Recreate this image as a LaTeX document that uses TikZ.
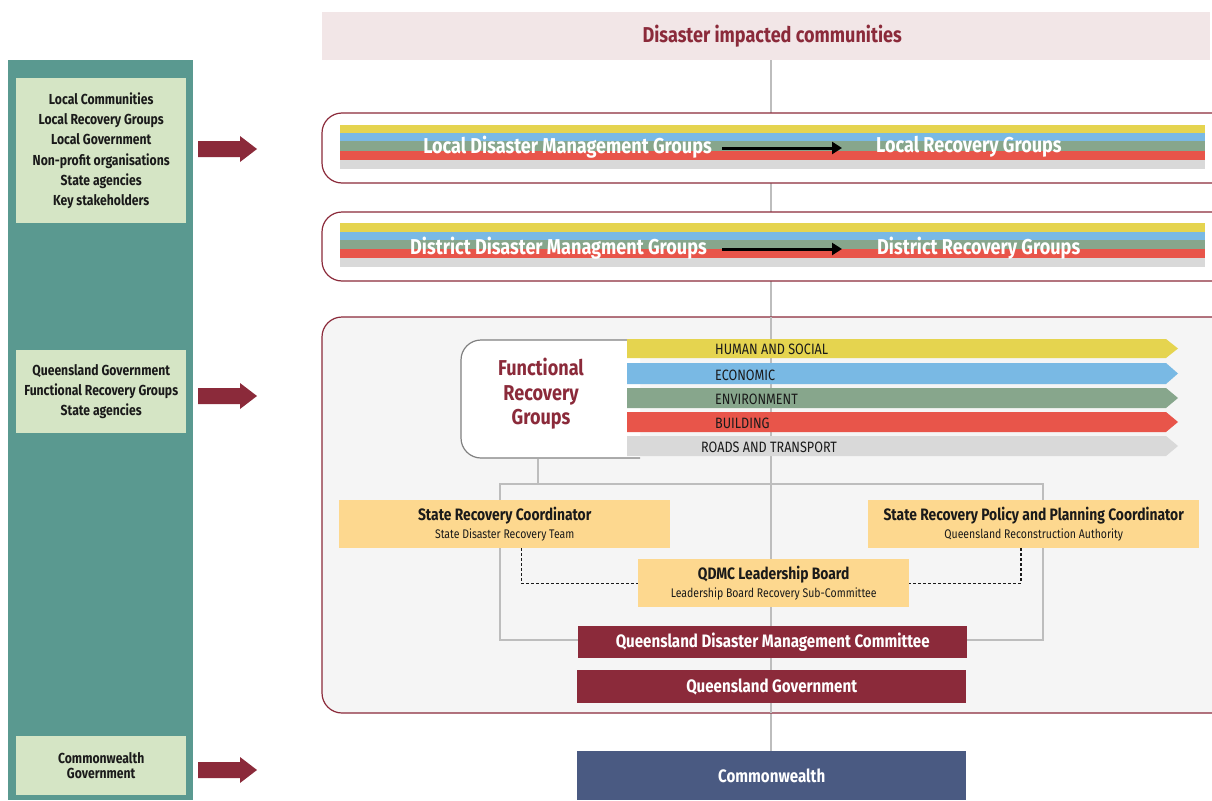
\documentclass[tikz,border=0pt]{standalone}
\usepackage{fontspec}
\setmainfont{Fira Sans}[FakeStretch=0.84]
\usetikzlibrary{arrows.meta,calc}
\definecolor{maroon}{HTML}{8B2A3A}
\definecolor{tealc}{HTML}{5A9990}
\definecolor{lgreen}{HTML}{D5E5C5}
\definecolor{pinkbg}{HTML}{F2E6E7}
\definecolor{panel}{HTML}{F5F5F5}
\definecolor{ybox}{HTML}{FDD88F}
\definecolor{navy}{HTML}{4A5A82}
\definecolor{lgray}{HTML}{BDBDBD}
\definecolor{cyel}{HTML}{E5D44F}
\definecolor{cblue}{HTML}{79B9E4}
\definecolor{cgreen}{HTML}{87A68C}
\definecolor{cred}{HTML}{E8554A}
\definecolor{cgray}{HTML}{D9D9D9}
\definecolor{ink}{HTML}{1A1A1A}
\newcommand\ttlfont{\bfseries\fontsize{16.5}{18}\selectfont}
\newcommand\subfont{\fontsize{12.5}{13}\selectfont}
\begin{document}
\begin{tikzpicture}[x=1pt,y=-1pt,
  box/.style={inner sep=0pt, align=center},
  leftbox/.style={box, fill=lgreen, text=ink, font=\bfseries\fontsize{14.5}{20.2}\selectfont},
  frame/.style={draw=maroon, line width=1.2pt, rounded corners=20pt},
  stripetxt/.style={text=white, font=\bfseries\fontsize{21.5}{24}\selectfont, inner sep=0pt},
  blackarrow/.style={-{Triangle[length=10pt,width=12pt]}, line width=3pt, black},
  bandtxt/.style={text=ink, font=\fontsize{15}{16}\selectfont, inner sep=0pt, anchor=west},
  gl/.style={draw=lgray, line width=2.5pt},
  ybx/.style={box, fill=ybox, text=ink, minimum width=331pt, minimum height=48pt},
  mbx/.style={box, fill=maroon, text=white, font=\bfseries\fontsize{18}{20}\selectfont},
  dsh/.style={dashed, dash pattern=on 3pt off 2pt, line width=1.3pt, ink}
]
\clip (0,0) rectangle (1212,800);
\fill[white] (0,0) rectangle (1212,800);

% left column
\node[box, fill=tealc, minimum width=185pt, minimum height=740pt, anchor=north west] (col) at (8,60) {};
\node[leftbox, minimum width=170pt, minimum height=145pt, anchor=north west] (lb1) at (16,78)
  {Local Communities\\Local Recovery Groups\\Local Government\\Non-profit organisations\\State agencies\\Key stakeholders};
\node[leftbox, minimum width=170pt, minimum height=83pt, anchor=north west] (lb2) at (16,350)
  {Queensland Government\\Functional Recovery Groups\\State agencies};
\node[leftbox, minimum width=170pt, minimum height=59pt, anchor=north west, font=\bfseries\fontsize{14.5}{15.5}\selectfont] (lb3) at (16,736)
  {Commonwealth\\Government};
\foreach \yy/\nm in {149/a1, 396/a2, 770/a3}{
  \fill[maroon] (198,\yy-8) -- (240,\yy-8) -- (240,\yy-13) -- (257,\yy) -- (240,\yy+13) -- (240,\yy+8) -- (198,\yy+8) -- cycle;
  \coordinate (\nm) at (228,\yy);
}

% top
\node[box, fill=pinkbg, text=maroon, font=\bfseries\fontsize{21.5}{24}\selectfont, minimum width=888pt, minimum height=48pt, anchor=north west] (top) at (322,12) {\raisebox{-2pt}{\hspace{12pt}Disaster impacted communities}};

% commonwealth
\node[box, fill=navy, text=white, font=\bfseries\fontsize{18}{20}\selectfont, minimum width=389pt, minimum height=49pt, anchor=north west] (cw) at (577,751) {Commonwealth};

% central line
\draw[gl] (top.south -| 771,0) -- (cw.north -| 771,0);

% Local box
\filldraw[frame, fill=white] (322,113) rectangle (1232,183);
\fill[cyel] (340,125) rectangle (1205,133);
\fill[cblue] (340,133) rectangle (1205,141);
\fill[cgreen] (340,141) rectangle (1205,151);
\fill[cred] (340,151) rectangle (1205,160);
\fill[cgray] (340,160) rectangle (1205,169);
\node[stripetxt, anchor=east] (ldm) at (712,147) {Local Disaster Management Groups};
\node[stripetxt, anchor=west] (lrg) at (876,147) {Local Recovery Groups};
\draw[blackarrow] ([xshift=10pt,yshift=-1pt]ldm.east) -- ([xshift=-34pt,yshift=-1pt]lrg.west);

% District box
\filldraw[frame, fill=white] (322,212) rectangle (1232,281);
\fill[cyel] (340,223) rectangle (1205,232);
\fill[cblue] (340,232) rectangle (1205,240);
\fill[cgreen] (340,240) rectangle (1205,249);
\fill[cred] (340,249) rectangle (1205,258);
\fill[cgray] (340,258) rectangle (1205,267);
\node[stripetxt, anchor=east] (ddm) at (707,248) {District Disaster Managment Groups};
\node[stripetxt, anchor=west] (drg) at (877,248) {District Recovery Groups};
\draw[blackarrow] ([xshift=15pt,yshift=-1pt]ddm.east) -- ([xshift=-35pt,yshift=-1pt]drg.west);

% big panel
\filldraw[frame, fill=panel] (322,317) rectangle (1232,713);
\draw[gl] (771,317) -- (771,713);

% functional recovery groups
\filldraw[draw=gray, line width=1.2pt, fill=white, rounded corners=20pt] (640,340) -- (461,340) -- (461,458) -- (640,458);
\node[box, text=maroon, font=\bfseries\fontsize{21.5}{24.5}\selectfont] (frg) at (541,394) {Functional\\Recovery\\Groups};

\fill[cyel] (627,339) -- (1166,339) -- (1178,348.5) -- (1166,358) -- (627,358) -- cycle;
\fill[cblue] (627,363) -- (1166,363) -- (1178,373.5) -- (1166,384) -- (627,384) -- cycle;
\fill[cgreen] (627,388) -- (1166,388) -- (1178,398) -- (1166,408) -- (627,408) -- cycle;
\fill[cred] (627,412) -- (1166,412) -- (1178,422) -- (1166,432) -- (627,432) -- cycle;
\fill[cgray] (627,436) -- (1166,436) -- (1178,446) -- (1166,456) -- (627,456) -- cycle;
\node[bandtxt] (hs) at (715,349.5) {HUMAN AND SOCIAL};
\node[bandtxt] (ec) at (715,375) {ECONOMIC};
\node[bandtxt] (en) at (715,399) {ENVIRONMENT};
\node[bandtxt] (bu) at (715,423.5) {BUILDING};
\node[bandtxt] (rt) at (701,447) {ROADS AND TRANSPORT};

% connector frame
\coordinate (fr) at (538,484);
\draw[gl] (538,459) -- (fr);
\draw[gl] (500,484) rectangle (1043,640);
\draw[gl] (771,484) -- (771,640);

% yellow boxes
\node[ybx, anchor=north west] (src) at (339,500)
  {{\ttlfont State Recovery Coordinator}\\[4pt]{\subfont State Disaster Recovery Team}};
\node[ybx, anchor=north west] (srp) at (868,500)
  {{\ttlfont State Recovery Policy and Planning Coordinator}\\[4pt]{\subfont Queensland Reconstruction Authority}};
\node[ybx, minimum width=271pt, anchor=north west] (qlb) at (638,559)
  {{\ttlfont QDMC Leadership Board}\\[4pt]{\subfont Leadership Board Recovery Sub-Committee}};
\draw[dsh] ($(src.south west)!0.55!(src.south east)$) |- (qlb.west);
\draw[dsh] ($(srp.south west)!0.462!(srp.south east)$) |- (qlb.east);

% maroon boxes
\node[mbx, minimum width=389pt, minimum height=32pt, anchor=north west] (qdmc) at (578,626) {Queensland Disaster Management Committee};
\node[mbx, minimum width=389pt, minimum height=33pt, anchor=north west] (qg) at (577,670) {Queensland Government};
\end{tikzpicture}
\end{document}
